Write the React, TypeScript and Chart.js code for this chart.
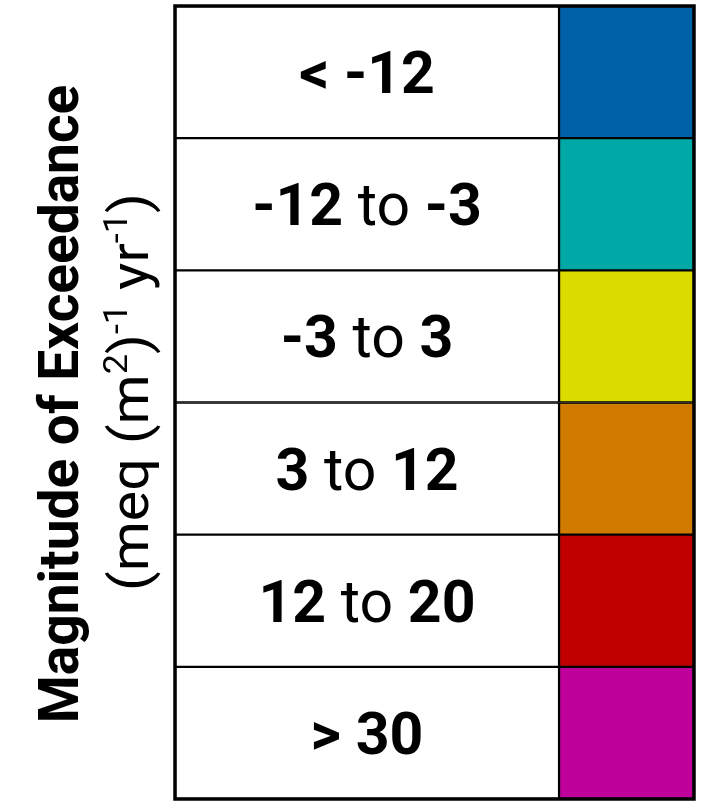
import React, { useEffect, useRef } from "react";
import { Chart, registerables } from "chart.js";

Chart.register(...registerables);

const categories = ["< -12", "-12 to -3", "-3 to 3", "3 to 12", "12 to 20", "> 30"];
const binColors = ["#0061A8", "#00A8A6", "#DBDB00", "#D07A00", "#C00000", "#C0009A"];
const labelSpan = [0, 0.74];
const swatchSpan = [0.74, 1];
const titleLine1 = "Magnitude of Exceedance";
const titleLine2 = [
  { t: "(meq (m", sup: false },
  { t: "2", sup: true },
  { t: ")", sup: false },
  { t: "-1", sup: true },
  { t: " yr", sup: false },
  { t: "-1", sup: true },
  { t: ")", sup: false },
];

const FONT = "Roboto, 'Liberation Sans', Arial, sans-serif";

const tablePlugin = {
  id: "tableDeco",
  afterDatasetsDraw(chart: any) {
    const ctx = chart.ctx as CanvasRenderingContext2D;
    const area = chart.chartArea;
    const xs = chart.scales.x;
    const ys = chart.scales.y;
    ctx.save();
    // row labels
    const cx = xs.getPixelForValue((labelSpan[0] + labelSpan[1]) / 2);
    categories.forEach((lab, i) => {
      const cy = ys.getPixelForValue(i);
      const parts = lab.split(" to ");
      const pieces: { t: string; bold: boolean }[] = [];
      if (parts.length === 2) {
        pieces.push({ t: parts[0], bold: true });
        pieces.push({ t: " to ", bold: false });
        pieces.push({ t: parts[1], bold: true });
      } else {
        pieces.push({ t: lab, bold: true });
      }
      const fontOf = (b: boolean) => `${b ? "bold " : ""}59px ${FONT}`;
      let total = 0;
      pieces.forEach((p) => {
        ctx.font = fontOf(p.bold);
        total += ctx.measureText(p.t).width;
      });
      let x = cx - total / 2;
      ctx.fillStyle = "#000";
      ctx.textBaseline = "alphabetic";
      ctx.textAlign = "left";
      pieces.forEach((p) => {
        ctx.font = fontOf(p.bold);
        ctx.fillText(p.t, x, cy + 21);
        x += ctx.measureText(p.t).width;
      });
    });
    // outer frame
    ctx.strokeStyle = "#000";
    ctx.lineWidth = 3.5;
    ctx.strokeRect(area.left, area.top, area.right - area.left, area.bottom - area.top);
    ctx.restore();

    // title line 1
    ctx.save();
    ctx.translate(78, 404);
    ctx.rotate(-Math.PI / 2);
    ctx.font = `bold 55px ${FONT}`;
    ctx.textAlign = "center";
    ctx.textBaseline = "alphabetic";
    ctx.fillStyle = "#000";
    ctx.fillText(titleLine1, 0, 0);
    ctx.restore();

    // title line 2
    ctx.save();
    ctx.translate(148, 392);
    ctx.rotate(-Math.PI / 2);
    ctx.scale(1.06, 1);
    const mainF = `54px ${FONT}`;
    const supF = `34px ${FONT}`;
    let w = 0;
    titleLine2.forEach((p) => {
      ctx.font = p.sup ? supF : mainF;
      w += ctx.measureText(p.t).width;
    });
    let x2 = -w / 2;
    ctx.textAlign = "left";
    ctx.fillStyle = "#000";
    titleLine2.forEach((p) => {
      ctx.font = p.sup ? supF : mainF;
      ctx.fillText(p.t, x2, p.sup ? -21 : 0);
      x2 += ctx.measureText(p.t).width;
    });
    ctx.restore();
  },
};

export default function App() {
  const ref = useRef<HTMLCanvasElement>(null);
  useEffect(() => {
    document.body.style.margin = "0";
    const chart = new Chart(ref.current!, {
      type: "bar",
      data: {
        labels: categories,
        datasets: [
          {
            data: categories.map(() => labelSpan as any),
            backgroundColor: "#ffffff",
            borderColor: "#000",
            borderWidth: 1.5,
            borderSkipped: false,
            categoryPercentage: 1,
            barPercentage: 1,
            grouped: false,
          } as any,
          {
            data: categories.map(() => swatchSpan as any),
            backgroundColor: binColors,
            borderColor: "#000",
            borderWidth: 1.5,
            borderSkipped: false,
            categoryPercentage: 1,
            barPercentage: 1,
            grouped: false,
          } as any,
        ],
      },
      options: {
        indexAxis: "y",
        animation: false,
        responsive: false,
        devicePixelRatio: 1,
        layout: { padding: { left: 175, top: 6, right: 11, bottom: 12 } },
        plugins: { legend: { display: false }, tooltip: { enabled: false } },
        scales: {
          x: { display: false, min: 0, max: 1 },
          y: { display: false },
        },
      },
      plugins: [tablePlugin],
    });
    return () => chart.destroy();
  }, []);
  return (
    <div style={{ width: 705, height: 811, background: "#fff" }}>
      <canvas ref={ref} width={705} height={811} style={{ display: "block" }} />
    </div>
  );
}
